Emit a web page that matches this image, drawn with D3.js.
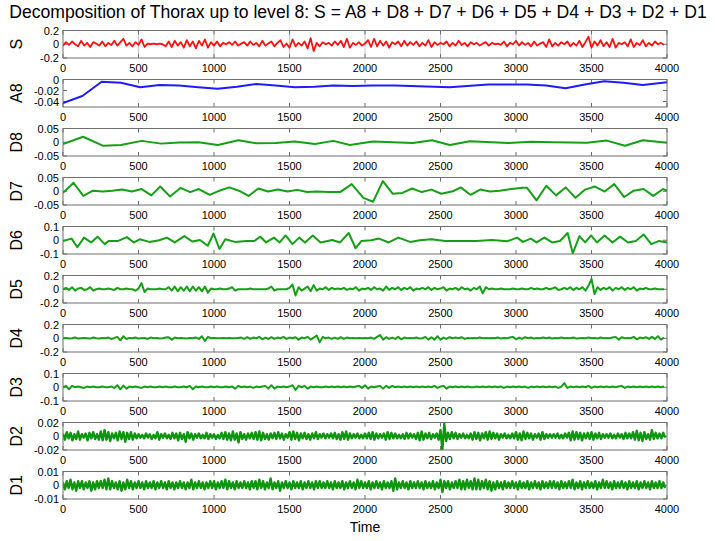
<!DOCTYPE html>
<html>
<head>
<meta charset="utf-8">
<script src="https://cdn.jsdelivr.net/npm/d3@7"></script>
<style>
  body { margin: 0; background: #fff; }
  svg { display: block; }
  text { font-family: "Liberation Sans", Arial, sans-serif; fill: #000; }
</style>
</head>
<body>
<svg id="chart" width="715" height="541"></svg>
<script>
// ---- labels ----
const titleText = "Decomposition of Thorax up to level 8: S = A8 + D8 + D7 + D6 + D5 + D4 + D3 + D2 + D1";
const xLabel = "Time";
const timeTicks = [0, 500, 1000, 1500, 2000, 2500, 3000, 3500, 4000];
const panelNames = ["S", "A8", "D8", "D7", "D6", "D5", "D4", "D3", "D2", "D1"];
const panelDomains = [[-0.2, 0.2], [-0.05, 0], [-0.05, 0.05], [-0.05, 0.05], [-0.1, 0.1],
                      [-0.2, 0.2], [-0.2, 0.2], [-0.1, 0.1], [-0.02, 0.02], [-0.01, 0.01]];
const panelTicks = [[-0.2, 0, 0.2], [-0.04, -0.02, 0], [-0.05, 0, 0.05], [-0.05, 0, 0.05], [-0.1, 0, 0.1],
                    [-0.2, 0, 0.2], [-0.2, 0, 0.2], [-0.1, 0, 0.1], [-0.02, 0, 0.02], [-0.01, 0, 0.01]];

// ---- signal S (sampled every 20 time units) ----
const sValues = [
  -0.02, 0.03, -0.01, 0.04, 0.0, -0.03, 0.05, -0.02, 0.02, -0.04, 0.03, 0.01, -0.02, 0.04, -0.03, 0.02, -0.01, 0.05, -0.02, 0.03,
  0.08, -0.02, 0.02, -0.03, 0.03, -0.01, 0.07, -0.04, 0.01, 0.0, 0.01, 0.0, 0.01, 0.0, -0.03, 0.04, -0.04, 0.05, -0.02, 0.03,
  -0.05, 0.06, -0.03, 0.04, -0.06, 0.05, -0.02, 0.07, -0.05, 0.03, -0.02, 0.04, -0.03, 0.02, 0.0, 0.03, -0.01, 0.04, -0.02, 0.01,
  0.03, -0.02, 0.04, -0.01, 0.02, -0.03, 0.05, -0.02, 0.01, 0.04, -0.03, 0.02, 0.06, -0.04, 0.01, -0.05, 0.07, -0.03, 0.02, -0.02,
  0.04, -0.06, 0.09, -0.1, 0.02, -0.03, 0.03, 0.0, 0.02, -0.02, 0.04, -0.01, 0.05, -0.04, 0.08, -0.05, 0.02, -0.01, 0.03, -0.02,
  0.01, 0.06, -0.04, 0.08, -0.03, 0.05, -0.02, 0.04, -0.05, 0.03, 0.0, 0.04, -0.03, 0.05, -0.02, 0.03, -0.01, 0.04, -0.03, 0.02,
  -0.02, 0.06, -0.04, 0.03, -0.01, 0.02, 0.0, 0.04, -0.03, 0.02, -0.02, 0.05, -0.01, 0.02, -0.03, 0.03, 0.0, 0.02, -0.02, 0.01,
  0.03, -0.02, 0.02, 0.0, 0.01, -0.01, 0.04, -0.03, 0.02, 0.0, 0.05, -0.02, 0.03, -0.01, 0.02, -0.03, 0.04, -0.02, 0.01, 0.03,
  -0.04, 0.07, -0.03, 0.02, -0.02, 0.03, 0.0, 0.04, -0.03, 0.02, -0.02, 0.05, -0.04, 0.03, 0.11, -0.05, 0.04, -0.02, 0.06, -0.03,
  0.03, -0.04, 0.08, -0.05, 0.02, 0.0, 0.03, -0.03, 0.07, -0.04, 0.02, -0.01, 0.06, -0.03, 0.02, -0.02, 0.04, 0.0, 0.02, -0.01
];

// ---- approximation A8 ----
const a8Time = [0, 128, 256, 384, 512, 640, 768, 896, 1024, 1152, 1280, 1408, 1536, 1664, 1792, 1920, 2048, 2200,
                2560, 2816, 3072, 3200, 3328, 3456, 3584, 3712, 3840, 4000];
const a8Values = [-0.043, -0.03, -0.004, -0.006, -0.014, -0.010, -0.011, -0.014, -0.017, -0.013, -0.008, -0.011,
                  -0.014, -0.013, -0.011, -0.012, -0.011, -0.011, -0.014, -0.009, -0.009, -0.011, -0.016, -0.009,
                  -0.003, -0.006, -0.010, -0.005];

// ---- detail D8 ----
const d8Time = [0, 133, 267, 384, 521, 650, 768, 896, 1026, 1161, 1280, 1408, 1536, 1669, 1790, 1900, 2052, 2317,
                2443, 2562, 2694, 2950, 3100, 3250, 3469, 3601, 3722, 3841, 4000];
const d8Values = [-0.007, 0.02, -0.013, -0.01, 0.005, -0.005, -0.001, 0.0, -0.01, 0.007, -0.004, -0.003, 0.003,
                  -0.006, 0.005, -0.01, 0.003, -0.003, 0.007, -0.01, 0.004, -0.003, 0.002, 0.0, -0.002, 0.006,
                  -0.013, 0.007, -0.002];

// ---- detail D7 ----
const d7Time = [0, 70, 134, 198, 263, 327, 392, 456, 521, 585, 644, 709, 778, 843, 899, 972, 1036, 1100, 1165, 1229,
                1294, 1358, 1423, 1487, 1551, 1616, 1680, 1758, 1835, 1912, 1989, 2054, 2118, 2183, 2247, 2312, 2376,
                2440, 2505, 2582, 2634, 2698, 2763, 2827, 2891, 2969, 3046, 3072, 3136, 3201, 3265, 3329, 3394, 3458,
                3523, 3587, 3651, 3716, 3780, 3845, 3909, 3974, 4000];
const d7Values = [-0.006, 0.031, -0.017, 0.002, -0.001, 0.002, 0.006, -0.001, 0.008, -0.015, 0.017, -0.019, 0.012,
                  -0.003, 0.008, -0.013, 0.002, 0.014, 0.002, -0.017, 0.010, -0.001, 0.006, -0.001, 0.005, -0.003,
                  -0.001, -0.003, -0.003, 0.026, -0.024, -0.038, 0.037, -0.009, -0.006, 0.010, -0.003, 0.006, -0.009,
                  0.0, 0.014, -0.013, 0.006, -0.001, 0.002, 0.008, 0.013, 0.013, -0.033, 0.020, -0.015, 0.014, -0.024,
                  0.006, 0.017, -0.001, 0.026, -0.021, 0.002, 0.008, -0.017, 0.008, 0.002];

// ---- detail D6 ----
const d6Time = [0, 57, 95, 139, 186, 229, 276, 302, 366, 423, 469, 508, 572, 637, 688, 740, 804, 856, 907, 959, 997,
                1036, 1075, 1139, 1216, 1268, 1307, 1345, 1397, 1435, 1474, 1520, 1564, 1603, 1654, 1706, 1783, 1835,
                1892, 1938, 1977, 2041, 2093, 2157, 2221, 2299, 2363, 2440, 2531, 2634, 2737, 2840, 2943, 3007, 3046,
                3098, 3136, 3188, 3239, 3291, 3342, 3376, 3420, 3458, 3497, 3536, 3587, 3639, 3690, 3742, 3793, 3845,
                3896, 3948, 4000];
const d6Values = [-0.005, 0.012, -0.051, 0.019, -0.016, 0.026, -0.028, -0.005, -0.005, 0.023, -0.016, 0.007, -0.012,
                  0.0, 0.019, -0.016, 0.030, -0.009, 0.002, -0.040, 0.049, -0.063, 0.007, -0.012, -0.005, -0.005,
                  0.026, -0.016, 0.019, -0.016, 0.035, -0.028, 0.019, -0.016, 0.035, -0.016, 0.002, -0.016, 0.053,
                  -0.058, -0.005, 0.0, 0.012, -0.016, 0.019, -0.012, 0.0, 0.007, -0.005, -0.005, -0.005, 0.002, -0.007,
                  0.019, -0.012, 0.012, -0.016, 0.019, -0.016, -0.005, 0.053, -0.095, 0.030, -0.016, 0.035, -0.016,
                  0.035, -0.016, 0.026, -0.016, -0.005, 0.042, -0.028, -0.005, -0.016];

// ---- detail D5 (every 20 time units) ----
const d5Values = [
  0, 0.02, -0.01, 0.03, -0.02, 0.01, 0.02, -0.01, 0, 0.03, -0.02, 0, 0.01, 0, 0, 0.01, 0, -0.01, 0.02, 0,
  0, 0.01, 0, 0, -0.02, 0.01, 0.09, -0.04, 0.01, 0, 0, 0, 0.01, 0, 0, 0.03, -0.02, 0.04, -0.03, 0.03,
  -0.02, 0.04, -0.03, 0.04, -0.02, 0.03, -0.03, 0.04, -0.05, 0.01, 0, 0, 0.01, 0, 0, 0.01, 0.03, -0.02, 0, 0,
  0, 0, 0.01, 0, 0, 0, 0, 0, 0.01, 0.04, -0.02, 0, 0, 0, 0, 0.02, 0.07, -0.09, 0.03, -0.02,
  0.01, 0.04, -0.03, 0.06, -0.02, 0.01, 0, 0.03, -0.01, 0.02, 0, 0.01, 0, 0.02, -0.01, 0.01, 0, 0.03, -0.02, 0.01,
  0, 0.02, -0.01, 0.03, 0, 0.01, -0.02, 0.04, -0.01, 0.02, 0, 0.03, -0.01, 0.02, 0, 0.03, -0.02, 0.01, 0, 0.02,
  0, 0.03, -0.01, 0.02, 0, 0.01, 0.03, -0.02, 0.01, 0, 0.02, -0.01, 0.03, 0, 0.01, -0.02, 0.02, 0, 0.04, -0.06,
  0.03, 0, 0.01, 0, 0, 0.01, 0, 0, 0, 0.01, 0, 0, 0.01, 0, 0, 0.02, 0, 0.01, 0, 0,
  0.02, 0, 0.01, 0.03, -0.01, 0, 0.02, 0, 0.03, -0.01, 0.02, 0, 0.03, -0.02, 0.05, 0.15, -0.07, 0.03, -0.01, 0.02,
  0, 0.03, -0.02, 0.02, 0, 0.03, -0.01, 0.02, 0, 0.03, -0.02, 0.01, 0, 0.02, 0, 0, 0.01, 0, 0, 0
];

// ---- detail D4 (every 20 time units) ----
const d4Values = [
  0, 0.005, -0.005, 0, 0.01, -0.005, 0, 0.005, 0, -0.005, 0.01, 0, -0.005, 0.005, 0, 0.01, -0.01, 0.005, 0.02, -0.03,
  0.03, -0.01, 0.005, 0, 0.01, -0.005, 0, 0.005, -0.01, 0.01, 0, 0.005, -0.005, 0, 0.01, 0.015, -0.02, 0.01, 0, 0.005,
  0, -0.005, 0.005, 0, 0.01, -0.01, 0.03, -0.04, 0.02, 0, 0.005, 0, 0, 0.005, 0, 0.005, 0, 0, 0.005, 0.01,
  -0.01, 0.015, -0.01, 0.01, 0, 0.02, -0.015, 0.01, -0.01, 0.015, -0.01, 0.01, 0, 0.02, -0.01, 0.01, 0, 0.015, -0.02, 0.01,
  0, 0.02, -0.02, 0.01, 0.04, -0.06, 0.02, 0, 0.01, -0.01, 0.01, -0.01, 0.015, -0.01, 0.01, 0, 0.005, 0, 0.005, 0,
  0.005, 0, 0.01, -0.01, 0.02, 0.045, -0.02, 0.015, -0.01, 0.01, -0.01, 0.02, -0.015, 0.01, 0, 0.005, 0, 0.01, -0.005, 0,
  0.02, -0.02, 0.015, -0.02, 0.03, -0.02, 0.01, -0.01, 0.015, 0, 0.01, 0, 0.015, -0.01, 0.005, 0, 0.005, 0, 0.01, 0,
  0.005, 0, 0.005, 0, 0.01, -0.005, 0.005, 0, 0.01, 0.02, -0.015, 0.01, -0.01, 0.015, 0, 0.01, -0.005, 0.005, 0, 0.01,
  0, 0.01, -0.005, 0.005, 0, 0.01, 0, 0.005, 0, 0.01, -0.005, 0, 0.005, 0, 0.01, 0, 0.005, -0.005, 0.01, 0,
  0.005, 0, 0.01, 0.02, -0.02, 0.015, 0, 0.005, 0, 0.02, -0.015, 0.01, 0, 0.015, -0.01, 0.02, -0.01, 0.03, -0.02, 0.01
];

// ---- detail D3 (every 20 time units) ----
const d3Values = [
  0, 0.01, -0.015, 0.01, 0, 0.005, 0, -0.005, 0.005, 0, 0.005, 0, 0, 0.005, 0, 0, 0.005, -0.005, 0.015, -0.015,
  0.012, -0.01, 0.005, 0, 0.005, 0, -0.005, 0.005, 0, 0.005, 0, 0, 0.005, 0, 0.005, 0, 0, 0.005, 0, 0,
  0.005, 0, 0.01, -0.015, 0.005, 0, 0.005, 0, 0, 0.005, 0, 0.005, 0, 0, 0.005, 0, 0.005, -0.01, 0.01, 0,
  0.005, 0, 0.005, -0.005, 0.005, 0, 0.005, 0.01, -0.01, 0.015, -0.01, 0.005, 0, 0.005, 0, 0.005, 0.015, -0.02, 0.01, 0,
  0.01, -0.01, 0.005, 0, 0.005, 0, 0, 0.005, 0, 0.005, 0, 0.005, 0, 0.005, 0, 0.005, 0, 0.005, 0.01, -0.005,
  0.015, -0.01, 0.005, 0, 0.005, 0.01, -0.01, 0.01, -0.005, 0.01, 0, 0.005, 0, 0.005, 0, 0.005, 0, 0.005, 0, 0.005,
  0, 0.005, 0, 0.01, -0.005, 0.005, 0.01, -0.01, 0.005, 0, 0.005, 0, 0.005, 0, 0.005, 0, 0, 0.005, 0, 0.005,
  0, 0.005, 0, 0.005, 0, 0.005, -0.005, 0.005, 0, 0.005, 0, 0.005, 0, 0.005, -0.005, 0.005, 0, 0.005, 0, 0.005,
  0, 0.005, 0, 0.005, -0.005, 0.005, 0.03, -0.005, 0.005, 0, 0.005, 0, 0.005, 0, 0.01, -0.005, 0.005, 0, 0.005, 0,
  0.005, 0, 0.005, 0, 0.005, 0.01, -0.005, 0.005, 0, 0.005, 0, 0.005, 0, 0.005, 0, 0.005, 0, 0.005, 0, 0.005
];

// ---- detail D2 (every 12.5 time units) ----
const d2Values = [
  0.004, -0.005, 0.006, -0.003, 0.005, -0.006, 0.003, -0.004, 0.007, -0.005, 0.003, -0.002, 0.004, -0.006, 0.005, -0.003, 0.006, -0.004, 0.003, -0.005,
  0.007, -0.006, 0.009, -0.005, 0.006, -0.007, 0.004, -0.003, 0.005, -0.006, 0.007, -0.004, 0.006, -0.008, 0.005, -0.004, 0.006, -0.005, 0.004, -0.003,
  0.003, -0.002, 0.002, -0.003, 0.004, -0.002, 0.003, -0.004, 0.002, -0.003, 0.006, -0.005, 0.003, -0.002, 0.004, -0.003, 0.002, -0.004, 0.005, -0.003,
  0.004, -0.006, 0.005, -0.004, 0.003, -0.008, 0.006, -0.003, 0.004, -0.005, 0.003, -0.002, 0.004, -0.003, 0.002, -0.003, 0.005, -0.004, 0.003, -0.002,
  0.003, -0.004, 0.002, -0.003, 0.005, -0.004, 0.006, -0.005, 0.004, -0.006, 0.007, -0.005, 0.004, -0.009, 0.006, -0.004, 0.003, -0.005, 0.004, -0.003,
  0.005, -0.004, 0.006, -0.005, 0.007, -0.006, 0.005, -0.004, 0.003, -0.005, 0.004, -0.003, 0.005, -0.004, 0.006, -0.003, 0.004, -0.005, 0.003, -0.002,
  0.006, -0.005, 0.007, -0.004, 0.005, -0.006, 0.004, -0.003, 0.005, -0.004, 0.003, -0.005, 0.004, -0.003, 0.006, -0.004, 0.003, -0.002, 0.004, -0.003,
  0.003, -0.002, 0.004, -0.003, 0.005, -0.004, 0.003, -0.005, 0.006, -0.004, 0.007, -0.005, 0.004, -0.003, 0.003, -0.002, 0.004, -0.003, 0.002, -0.003,
  0.004, -0.003, 0.005, -0.004, 0.006, -0.005, 0.004, -0.003, 0.003, -0.002, 0.004, -0.005, 0.006, -0.004, 0.005, -0.003, 0.004, -0.003, 0.002, -0.003,
  0.003, -0.004, 0.005, -0.003, 0.004, -0.002, 0.003, -0.004, 0.005, -0.006, 0.007, -0.005, 0.004, -0.003, 0.005, -0.004, 0.003, -0.002, 0.004, -0.005,
  0.009, -0.02, 0.018, -0.007, 0.005, -0.004, 0.006, -0.003, 0.005, -0.004, 0.003, -0.002, 0.004, -0.003, 0.002, -0.003, 0.004, -0.005, 0.006, -0.004,
  0.005, -0.006, 0.004, -0.003, 0.006, -0.005, 0.007, -0.004, 0.005, -0.003, 0.004, -0.005, 0.003, -0.002, 0.004, -0.003, 0.002, -0.003, 0.004, -0.003,
  0.006, -0.005, 0.004, -0.006, 0.007, -0.004, 0.005, -0.003, 0.004, -0.005, 0.003, -0.002, 0.004, -0.005, 0.006, -0.004, 0.003, -0.002, 0.003, -0.002,
  0.003, -0.002, 0.004, -0.003, 0.002, -0.003, 0.004, -0.002, 0.005, -0.006, 0.007, -0.005, 0.006, -0.004, 0.005, -0.006, 0.004, -0.003, 0.005, -0.004,
  0.006, -0.005, 0.004, -0.003, 0.005, -0.004, 0.003, -0.002, 0.003, -0.002, 0.004, -0.003, 0.002, -0.003, 0.004, -0.002, 0.003, -0.004, 0.005, -0.003,
  0.004, -0.003, 0.006, -0.005, 0.008, -0.006, 0.005, -0.007, 0.006, -0.004, 0.003, -0.005, 0.009, -0.004, 0.005, -0.003, 0.004, -0.003, 0.005, -0.002
];

// ---- detail D1 (every 12.5 time units) ----
const d1Values = [
  0.002, -0.003, 0.003, -0.002, 0.004, -0.003, 0.002, -0.004, 0.003, -0.002, 0.003, -0.003, 0.002, -0.002, 0.003, -0.004, 0.002, -0.003, 0.003, -0.002,
  0.003, -0.002, 0.004, -0.003, 0.005, -0.003, 0.003, -0.002, 0.002, -0.003, 0.003, -0.004, 0.002, -0.003, 0.004, -0.002, 0.003, -0.003, 0.002, -0.002,
  0.003, -0.002, 0.002, -0.003, 0.003, -0.002, 0.002, -0.002, 0.003, -0.003, 0.002, -0.002, 0.003, -0.002, 0.002, -0.003, 0.003, -0.002, 0.002, -0.003,
  0.002, -0.002, 0.003, -0.002, 0.002, -0.003, 0.002, -0.002, 0.004, -0.003, 0.002, -0.002, 0.003, -0.002, 0.002, -0.003, 0.002, -0.002, 0.003, -0.002,
  0.003, -0.003, 0.002, -0.002, 0.003, -0.002, 0.004, -0.003, 0.003, -0.002, 0.002, -0.003, 0.003, -0.002, 0.002, -0.002, 0.003, -0.002, 0.002, -0.003,
  0.003, -0.002, 0.003, -0.003, 0.004, -0.002, 0.003, -0.003, 0.002, -0.002, 0.005, -0.003, 0.002, -0.002, 0.003, -0.004, 0.002, -0.002, 0.003, -0.002,
  0.002, -0.003, 0.003, -0.002, 0.002, -0.002, 0.003, -0.003, 0.002, -0.002, 0.003, -0.002, 0.002, -0.003, 0.003, -0.002, 0.003, -0.002, 0.002, -0.002,
  0.003, -0.002, 0.002, -0.003, 0.003, -0.002, 0.002, -0.002, 0.003, -0.003, 0.002, -0.002, 0.003, -0.002, 0.002, -0.003, 0.004, -0.002, 0.003, -0.002,
  0.002, -0.002, 0.003, -0.003, 0.002, -0.002, 0.003, -0.002, 0.002, -0.003, 0.003, -0.002, 0.002, -0.002, 0.003, -0.004, 0.005, -0.003, 0.002, -0.002,
  0.003, -0.002, 0.002, -0.003, 0.003, -0.002, 0.002, -0.002, 0.003, -0.002, 0.002, -0.003, 0.003, -0.002, 0.002, -0.002, 0.003, -0.003, 0.002, -0.002,
  0.004, -0.005, 0.003, -0.002, 0.003, -0.003, 0.002, -0.002, 0.003, -0.002, 0.004, -0.003, 0.003, -0.003, 0.004, -0.002, 0.003, -0.003, 0.005, -0.003,
  0.004, -0.003, 0.003, -0.002, 0.004, -0.003, 0.003, -0.004, 0.002, -0.003, 0.003, -0.002, 0.002, -0.003, 0.003, -0.002, 0.002, -0.002, 0.003, -0.002,
  0.002, -0.003, 0.003, -0.002, 0.002, -0.002, 0.003, -0.003, 0.002, -0.002, 0.003, -0.002, 0.002, -0.003, 0.003, -0.002, 0.002, -0.002, 0.003, -0.002,
  0.003, -0.002, 0.002, -0.003, 0.003, -0.002, 0.002, -0.002, 0.003, -0.002, 0.004, -0.003, 0.002, -0.002, 0.003, -0.003, 0.002, -0.002, 0.003, -0.002,
  0.002, -0.002, 0.003, -0.003, 0.002, -0.002, 0.004, -0.002, 0.003, -0.002, 0.002, -0.003, 0.003, -0.002, 0.002, -0.002, 0.003, -0.002, 0.002, -0.003,
  0.003, -0.002, 0.002, -0.002, 0.003, -0.003, 0.002, -0.002, 0.003, -0.002, 0.002, -0.003, 0.003, -0.002, 0.002, -0.002, 0.003, -0.002, 0.002, -0.002
];

// ---- pair each series with its time axis ----
function evenlySpaced(values) {
  const step = 4000 / values.length;
  return values.map((v, i) => ({ t: i * step, v }));
}
function paired(times, values) {
  return times.map((t, i) => ({ t, v: values[i] }));
}
const seriesData = [
  evenlySpaced(sValues),
  paired(a8Time, a8Values),
  paired(d8Time, d8Values),
  paired(d7Time, d7Values),
  paired(d6Time, d6Values),
  evenlySpaced(d5Values),
  evenlySpaced(d4Values),
  evenlySpaced(d3Values),
  evenlySpaced(d2Values),
  evenlySpaced(d1Values)
];

// ---- layout & style ----
const W = 715, H = 541;
const plotLeft = 63, plotRight = 667;
const firstTop = 30.5, panelStep = 49, panelH = 27.5;
const red = "#ff1010", blue = "#1c1cff", green = "#14a014", denseGreen = "#0f960f";
const lineColors = [red, blue, green, green, green, green, green, green, denseGreen, denseGreen];
const lineWidths = [1.8, 2, 2, 2, 2, 2, 2, 2, 2.4, 2.4];
const frameColor = "#6e6e6e";

const svg = d3.select("#chart");
svg.append("rect").attr("width", W).attr("height", H).attr("fill", "#fff");

const x = d3.scaleLinear().domain([0, 4000]).range([plotLeft, plotRight]);

svg.append("text")
  .attr("x", 358).attr("y", 18)
  .attr("text-anchor", "middle")
  .style("font-size", "17.6px")
  .text(titleText);

const defs = svg.append("defs");
const fmt = d => (d === 0 ? "0" : String(d));

panelNames.forEach((name, i) => {
  const top = firstTop + i * panelStep;
  const bottom = top + panelH;
  const y = d3.scaleLinear().domain(panelDomains[i]).range([bottom, top]);
  const g = svg.append("g");

  // light vertical grid in the signal panel
  if (i === 0) {
    g.selectAll("line.grid").data(timeTicks.slice(1, -1)).enter().append("line")
      .attr("x1", d => x(d)).attr("x2", d => x(d))
      .attr("y1", top).attr("y2", bottom)
      .attr("stroke", "#c4c4c4").attr("stroke-width", 1);
  }

  // inward ticks on all four sides
  const tickLen = 4;
  timeTicks.forEach(t => {
    g.append("line").attr("x1", x(t)).attr("x2", x(t)).attr("y1", bottom).attr("y2", bottom - tickLen)
      .attr("stroke", frameColor);
    g.append("line").attr("x1", x(t)).attr("x2", x(t)).attr("y1", top).attr("y2", top + tickLen)
      .attr("stroke", frameColor);
  });
  panelTicks[i].forEach(v => {
    g.append("line").attr("x1", plotLeft).attr("x2", plotLeft + tickLen).attr("y1", y(v)).attr("y2", y(v))
      .attr("stroke", frameColor);
    g.append("line").attr("x1", plotRight).attr("x2", plotRight - tickLen).attr("y1", y(v)).attr("y2", y(v))
      .attr("stroke", frameColor);
  });

  // the curve, clipped to the axes box
  const clipId = "clip" + i;
  defs.append("clipPath").attr("id", clipId).append("rect")
    .attr("x", plotLeft).attr("y", top).attr("width", plotRight - plotLeft).attr("height", panelH);
  const line = d3.line().x(d => x(d.t)).y(d => y(d.v));
  g.append("path")
    .datum(seriesData[i])
    .attr("clip-path", `url(#${clipId})`)
    .attr("fill", "none")
    .attr("stroke", lineColors[i])
    .attr("stroke-width", lineWidths[i])
    .attr("stroke-linejoin", "round")
    .attr("d", line);

  // frame
  g.append("rect")
    .attr("x", plotLeft).attr("y", top)
    .attr("width", plotRight - plotLeft).attr("height", panelH)
    .attr("fill", "none").attr("stroke", frameColor).attr("stroke-width", 1);

  // y tick labels
  g.selectAll("text.yt").data(panelTicks[i]).enter().append("text")
    .attr("x", plotLeft - 4).attr("y", d => y(d) + 4)
    .attr("text-anchor", "end")
    .style("font-size", "11px")
    .text(fmt);

  // x tick labels
  g.selectAll("text.xt").data(timeTicks).enter().append("text")
    .attr("x", d => x(d)).attr("y", bottom + 14)
    .attr("text-anchor", "middle")
    .style("font-size", "11px")
    .text(d => d);

  // panel name
  g.append("text")
    .attr("transform", `translate(22,${top + panelH / 2}) rotate(-90)`)
    .attr("text-anchor", "middle")
    .style("font-size", "16px")
    .text(name);
});

svg.append("text")
  .attr("x", 365).attr("y", 532)
  .attr("text-anchor", "middle")
  .style("font-size", "14px")
  .text(xLabel);
</script>
</body>
</html>
